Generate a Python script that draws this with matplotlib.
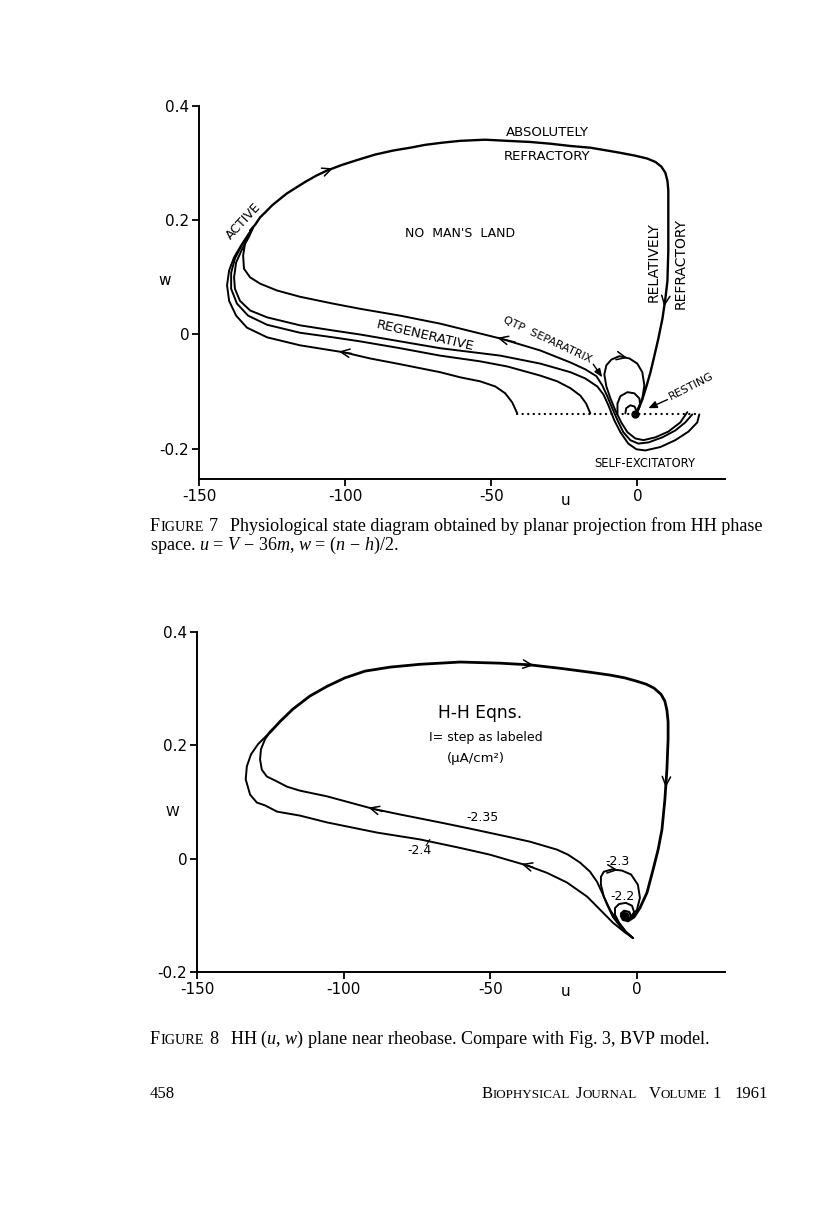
import matplotlib
matplotlib.use("Agg")
import matplotlib.pyplot as plt
import numpy as np

W_PX, H_PX, DPI = 816, 1229, 100

plt.rcParams['font.family'] = ['DejaVu Sans']
plt.rcParams['axes.unicode_minus'] = False
plt.rcParams['mathtext.fontset'] = 'custom'
plt.rcParams['mathtext.rm'] = 'Liberation Serif'
plt.rcParams['mathtext.it'] = 'Liberation Serif:italic'
plt.rcParams['mathtext.bf'] = 'Liberation Serif:bold'

# ---------------- axis ticks ----------------
u_ticks = [-150, -100, -50, 0]
u_ticklabels = ['-150', '-100', '-50', '0']
w_ticks = [-0.2, 0, 0.2, 0.4]
w_ticklabels = ['-0.2', '0', '0.2', '0.4']

# ---------------- Figure 7 data (u, w) ----------------
f7_cycle_u = [-132.5, -130.8, -129.1, -127.1, -125.0, -122.6, -119.9, -116.8, -113.7, -109.9,
              -106.2, -101.0, -95.5, -89.7, -83.6, -77.7, -72.6, -66.4, -60.6, -52.1,
              -44.5, -36.6, -29.8, -22.9, -16.1, -10.3, -5.8, -0.7, 3.4, 6.2,
              8.2, 9.6, 10.3, 10.6, 10.6, 10.6, 10.3, 9.6, 8.6, 7.2,
              5.8, 4.5, 3.1, 1.7, 0.3, -0.7]
f7_cycle_w = [0.182, 0.192, 0.205, 0.215, 0.226, 0.236, 0.247, 0.257, 0.267, 0.278,
              0.287, 0.297, 0.306, 0.315, 0.322, 0.327, 0.332, 0.336, 0.339, 0.341,
              0.339, 0.337, 0.334, 0.330, 0.327, 0.322, 0.318, 0.313, 0.308, 0.302,
              0.294, 0.283, 0.269, 0.252, 0.199, 0.147, 0.094, 0.063, 0.028, -0.007,
              -0.038, -0.066, -0.091, -0.114, -0.131, -0.140]

f7_qtp_u = [18.8, 16.4, 13.0, 8.6, 3.8, 0.3, -2.4, -4.8, -6.8, -8.6, -10.3, -12.0, -14.0,
            -17.8, -22.9, -33.2, -46.9, -67.5, -81.2, -94.9, -104.1, -115.4, -123.3,
            -129.1, -132.5, -134.6, -134.9, -134.2, -132.5]
f7_qtp_w = [-0.140, -0.154, -0.168, -0.180, -0.189, -0.191, -0.185, -0.171, -0.150, -0.129,
            -0.108, -0.089, -0.073, -0.061, -0.049, -0.028, -0.007, 0.019, 0.033, 0.045,
            0.054, 0.066, 0.077, 0.089, 0.100, 0.115, 0.138, 0.161, 0.178]

f7_regen_a_u = [21.2, 20.5, 17.5, 13.0, 7.9, 2.7, -0.3, -3.1, -5.8, -7.9, -9.9, -11.6, -13.7,
                -17.8, -22.9, -33.2, -46.9, -67.5, -81.2, -94.9, -104.1, -115.4, -126.7,
                -132.5, -136.0, -137.7, -138.0, -137.3, -135.3, -132.9, -131.5]
f7_regen_a_w = [-0.140, -0.154, -0.170, -0.185, -0.197, -0.203, -0.201, -0.191, -0.171, -0.150,
                -0.124, -0.105, -0.091, -0.077, -0.066, -0.051, -0.037, -0.024, -0.012, 0.000,
                0.007, 0.016, 0.030, 0.042, 0.059, 0.080, 0.100, 0.126, 0.149, 0.171, 0.187]

f7_regen_b_u = [-16.1, -17.5, -19.5, -22.9, -27.4, -33.2, -44.5, -53.8, -67.5, -81.2, -94.9,
                -104.1, -115.4, -126.7, -133.2, -137.0, -139.0, -139.0, -137.7, -135.6,
                -133.2, -131.5]
f7_regen_b_w = [-0.138, -0.121, -0.107, -0.094, -0.082, -0.072, -0.056, -0.047, -0.037, -0.024,
                -0.012, -0.005, 0.003, 0.017, 0.033, 0.054, 0.080, 0.108, 0.133, 0.154,
                0.173, 0.187]

f7_regen_c_u = [-41.1, -42.8, -45.2, -48.6, -53.8, -60.6, -67.5, -81.2, -91.4, -100.7, -115.4,
                -126.7, -133.6, -137.3, -139.7, -140.4, -139.7, -138.0, -135.6, -133.2, -131.5]
f7_regen_c_w = [-0.138, -0.119, -0.103, -0.091, -0.082, -0.075, -0.066, -0.052, -0.042, -0.031,
                -0.019, -0.005, 0.012, 0.033, 0.059, 0.086, 0.112, 0.135, 0.156, 0.175, 0.187]

f7_loop_big_u = [17.1, 14.7, 10.6, 6.2, 2.1, -0.7, -3.4, -5.5, -7.5, -9.2, -10.6, -11.3, -10.6,
                 -8.9, -6.2, -2.7, 0.0, 1.7, 2.4, 1.7, 0.3, -0.7]
f7_loop_big_w = [-0.136, -0.154, -0.170, -0.180, -0.185, -0.182, -0.171, -0.154, -0.133, -0.112,
                 -0.091, -0.070, -0.054, -0.044, -0.038, -0.042, -0.051, -0.066, -0.089, -0.112,
                 -0.129, -0.140]

f7_loop_mid_u = [-6.8, -6.8, -5.8, -3.4, -1.0, 0.7, 1.0, 0.0]
f7_loop_mid_w = [-0.138, -0.121, -0.108, -0.101, -0.103, -0.112, -0.124, -0.136]

f7_loop_small_u = [-4.1, -3.8, -2.4, -1.0, -0.3, -0.7]
f7_loop_small_w = [-0.138, -0.129, -0.124, -0.126, -0.133, -0.140]

f7_rest_u = [-0.7]
f7_rest_w = [-0.140]

f7_initial_u = [-41.1, 21.6]
f7_initial_w = [-0.139, -0.139]

# ---------------- Figure 8 data (u, w) ----------------
f8_cycle_u = [-125.1, -121.7, -117.3, -111.5, -105.7, -99.6, -92.7, -84.2, -74.0, -60.3,
              -46.7, -36.5, -26.3, -16.0, -9.2, -4.1, 0.0, 3.1, 5.8, 8.2,
              9.5, 10.2, 10.6, 10.6, 10.2, 9.5, 8.5, 7.2, 5.5, 3.4,
              1.0, -1.0, -3.1]
f8_cycle_w = [0.223, 0.242, 0.264, 0.287, 0.304, 0.319, 0.331, 0.338, 0.343, 0.347,
              0.345, 0.342, 0.336, 0.329, 0.324, 0.319, 0.313, 0.308, 0.301, 0.290,
              0.278, 0.262, 0.242, 0.211, 0.158, 0.104, 0.051, 0.016, -0.019, -0.060,
              -0.087, -0.103, -0.110]

f8_i235_u = [-1.4, -3.4, -5.8, -8.2, -10.2, -11.9, -13.6, -16.0, -19.4, -23.5, -27.3, -36.5,
             -44.3, -56.9, -67.2, -80.8, -90.0, -105.7, -114.9, -119.3, -123.4, -126.2,
             -127.9, -128.5, -128.2, -126.8, -125.1]
f8_i235_w = [-0.140, -0.131, -0.119, -0.103, -0.081, -0.060, -0.041, -0.023, -0.007, 0.007,
             0.016, 0.030, 0.039, 0.053, 0.064, 0.078, 0.088, 0.110, 0.120, 0.127, 0.138,
             0.145, 0.157, 0.175, 0.193, 0.211, 0.223]

f8_i24_u = [-1.4, -4.4, -8.2, -12.6, -17.0, -23.9, -30.7, -37.5, -50.1, -60.3, -74.0, -88.6,
            -105.7, -114.9, -122.7, -126.8, -129.6, -131.9, -133.4, -133.0, -131.6, -129.2,
            -126.5, -124.4]
f8_i24_w = [-0.140, -0.129, -0.113, -0.090, -0.067, -0.042, -0.025, -0.012, 0.007, 0.019,
            0.034, 0.046, 0.064, 0.076, 0.083, 0.094, 0.099, 0.113, 0.140, 0.163, 0.184,
            0.202, 0.216, 0.228]

f8_i23_u = [-1.4, -3.8, -6.5, -9.2, -11.3, -12.3, -12.3, -11.3, -8.5, -5.1, -2.0, 0.3, 1.0,
            0.0, -2.0, -3.8]
f8_i23_w = [-0.140, -0.129, -0.112, -0.090, -0.067, -0.046, -0.032, -0.023, -0.019, -0.021,
            -0.028, -0.046, -0.069, -0.090, -0.104, -0.108]

f8_i22_u = [-1.4, -3.8, -6.1, -7.5, -7.5, -6.1, -3.8, -1.7, -1.0, -2.0, -3.8]
f8_i22_w = [-0.140, -0.129, -0.113, -0.099, -0.087, -0.080, -0.078, -0.083, -0.094, -0.104,
            -0.106]

f8_spiral_u = [-5.5, -4.4, -2.7, -2.0, -3.1, -4.8, -5.5, -4.4, -3.4, -4.1]
f8_spiral_w = [-0.097, -0.092, -0.094, -0.101, -0.110, -0.108, -0.101, -0.096, -0.099, -0.104]

f8_rest_u = [-4.1]
f8_rest_w = [-0.102]

f8_current_labels = ['-2.35', '-2.4', '-2.3', '-2.2']

# ---------------- drawing ----------------
fig = plt.figure(figsize=(W_PX / DPI, H_PX / DPI), dpi=DPI)
fig.patch.set_facecolor('white')

ax7 = fig.add_axes([199 / W_PX, 1 - 479 / H_PX, 526 / W_PX, 373 / H_PX])
ax8 = fig.add_axes([197 / W_PX, 1 - 972 / H_PX, 528 / W_PX, 340 / H_PX])


def style_axes(ax, ylo):
    ax.set_xlim(-150, 30)
    ax.set_ylim(ylo, 0.4)
    ax.patch.set_alpha(0)
    for s in ['top', 'right']:
        ax.spines[s].set_visible(False)
    for s in ['left', 'bottom']:
        ax.spines[s].set_linewidth(1.4)
    ax.set_xticks(u_ticks)
    ax.set_xticklabels(u_ticklabels)
    ax.set_yticks(w_ticks)
    ax.set_yticklabels(w_ticklabels)
    ax.tick_params(direction='out', length=5, width=1.3, labelsize=11, pad=2)


style_axes(ax7, -0.253)
style_axes(ax8, -0.2)


def curve(ax, u, w, lw=1.4):
    ax.plot(u, w, color='k', lw=lw, solid_joinstyle='round', solid_capstyle='round')


def arrow_on(ax, u, w, k, f, lw=1.1):
    p0 = np.array([u[k], w[k]])
    p1 = np.array([u[k + 1], w[k + 1]])
    head = p0 + f * (p1 - p0)
    tail = head - 0.3 * (p1 - p0)
    ax.annotate('', xy=head, xytext=tail,
                arrowprops=dict(arrowstyle='->,head_length=0.65,head_width=0.3',
                                lw=lw, color='k', shrinkA=0, shrinkB=0))


# ---- Figure 7 ----
curve(ax7, f7_cycle_u, f7_cycle_w, lw=1.7)
curve(ax7, f7_qtp_u, f7_qtp_w)
curve(ax7, f7_regen_a_u, f7_regen_a_w)
curve(ax7, f7_regen_b_u, f7_regen_b_w)
curve(ax7, f7_regen_c_u, f7_regen_c_w)
curve(ax7, f7_loop_big_u, f7_loop_big_w)
curve(ax7, f7_loop_mid_u, f7_loop_mid_w)
curve(ax7, f7_loop_small_u, f7_loop_small_w)
ax7.plot(f7_initial_u, f7_initial_w, color='k', lw=1.6, linestyle=(0, (0.1, 2.4)),
         dash_capstyle='round')
ax7.plot(f7_rest_u, f7_rest_w, 'o', color='k', ms=5)

arrow_on(ax7, f7_cycle_u, f7_cycle_w, 10, 0.4)
arrow_on(ax7, f7_cycle_u, f7_cycle_w, 37, 0.4)
arrow_on(ax7, f7_regen_c_u, f7_regen_c_w, 9, 0.1)
arrow_on(ax7, f7_qtp_u, f7_qtp_w, 16, 0.05)
arrow_on(ax7, f7_loop_big_u, f7_loop_big_w, 14, 0.8)

lab = dict(ha='center', va='center', color='k')
ax7.text(-30.8, 0.353, 'ABSOLUTELY', fontsize=9.5, **lab)
ax7.text(-30.8, 0.311, 'REFRACTORY', fontsize=9.5, **lab)
ax7.text(-60.6, 0.177, "NO  MAN'S  LAND", fontsize=9, **lab)
ax7.text(-134.9, 0.198, 'ACTIVE', fontsize=9, rotation=47, **lab)
ax7.text(5.5, 0.126, 'RELATIVELY', fontsize=10, rotation=90, **lab)
ax7.text(14.7, 0.124, 'REFRACTORY', fontsize=10, rotation=90, **lab)
ax7.text(-72.6, -0.003, 'REGENERATIVE', fontsize=9.5, rotation=-13, **lab)
ax7.text(-30.8, -0.010, 'QTP  SEPARATRIX', fontsize=8, rotation=-25, **lab)
ax7.text(18.5, -0.091, 'RESTING', fontsize=8, rotation=27, **lab)
ax7.text(2.7, -0.226, 'SELF-EXCITATORY', fontsize=8.3, **lab)
ax7.annotate('', xy=(-12.0, -0.075), xytext=(-15.1, -0.052),
             arrowprops=dict(arrowstyle='-|>,head_length=0.5,head_width=0.2', lw=1.0,
                             color='k', shrinkA=0, shrinkB=0))
ax7.annotate('', xy=(3.8, -0.129), xytext=(10.3, -0.114),
             arrowprops=dict(arrowstyle='-|>,head_length=0.5,head_width=0.22', lw=1.0,
                             color='k', shrinkA=0, shrinkB=0))
ax7.text(-161.6, 0.094, 'w', fontsize=11, clip_on=False, **lab)
ax7.text(-24.7, -0.290, 'u', fontsize=11, clip_on=False, **lab)

# ---- Figure 8 ----
curve(ax8, f8_cycle_u, f8_cycle_w, lw=2.0)
curve(ax8, f8_i235_u, f8_i235_w)
curve(ax8, f8_i24_u, f8_i24_w)
curve(ax8, f8_i23_u, f8_i23_w)
curve(ax8, f8_i22_u, f8_i22_w)
curve(ax8, f8_spiral_u, f8_spiral_w, lw=1.6)
ax8.plot(f8_rest_u, f8_rest_w, 'o', color='k', ms=5)

arrow_on(ax8, f8_cycle_u, f8_cycle_w, 11, 0.13)
arrow_on(ax8, f8_cycle_u, f8_cycle_w, 24, 0.6)
arrow_on(ax8, f8_i235_u, f8_i235_w, 16, 0.1)
arrow_on(ax8, f8_i24_u, f8_i24_w, 7, 0.15)
arrow_on(ax8, f8_i23_u, f8_i23_w, 8, 0.6)

ax8.text(-53.5, 0.257, 'H-H Eqns.', fontsize=12.3, **lab)
ax8.text(-51.5, 0.214, 'I= step as labeled', fontsize=9, **lab)
ax8.text(-54.9, 0.177, '(\u00b5A/cm\u00b2)', fontsize=9.5, **lab)
ax8.text(-52.8, 0.073, f8_current_labels[0], fontsize=9, **lab)
ax8.text(-74.3, 0.014, f8_current_labels[1], fontsize=9, **lab)
ax8.text(-6.8, -0.005, f8_current_labels[2], fontsize=9, **lab)
ax8.text(-5.1, -0.067, f8_current_labels[3], fontsize=9, **lab)
ax8.annotate('', xy=(-70.6, 0.034), xytext=(-71.9, 0.023),
             arrowprops=dict(arrowstyle='-', lw=0.8, color='k', shrinkA=0, shrinkB=0))
ax8.text(-158.5, 0.083, 'W', fontsize=10, clip_on=False, **lab)
ax8.text(-24.5, -0.235, 'u', fontsize=11, clip_on=False, **lab)

# ---- captions (serif, small caps emulated) ----
renderer = fig.canvas.get_renderer()


def place_pieces(y_px, pieces, x_left=None, x_right=None, weight='normal'):
    x = 0.0
    arts = []
    for s, size, gap in pieces:
        x += gap
        t = fig.text(x / W_PX, 1 - y_px / H_PX, s, fontsize=size, ha='left', va='baseline',
                     family='Liberation Serif', weight=weight, color='k')
        bb = t.get_window_extent(renderer)
        arts.append((t, x))
        x = bb.x1
    x0 = x_left if x_left is not None else x_right - x
    for t, xs in arts:
        t.set_x((x0 + xs) / W_PX)


place_pieces(531, [("F", 13.1, 0), ("IGURE", 10.2, 0.5), ("7", 13.1, 5),
                   ("Physiological state diagram obtained by planar projection from HH phase",
                    13.1, 12)], x_left=150)
place_pieces(550, [("space. $u$ = $V$ \u2212 36$m$, $w$ = ($n$ \u2212 $h$)/2.", 13.1, 0)],
             x_left=150)
place_pieces(1044, [("F", 13.1, 0), ("IGURE", 10.2, 0.5), ("8", 13.1, 5),
                    ("HH ($u$, $w$) plane near rheobase. Compare with Fig. 3, BVP model.",
                     13.1, 12)], x_left=150)
place_pieces(1098, [("458", 12, 0)], x_left=150)
place_pieces(1098, [("B", 12, 0), ("IOPHYSICAL", 9.4, 0.5), ("J", 12, 5), ("OURNAL", 9.4, 0.5),
                    ("V", 12, 12), ("OLUME", 9.4, 0.5), ("1", 12, 5), ("1961", 12, 14)],
             x_right=768)

fig.savefig('out.png', dpi=DPI, facecolor='white')
